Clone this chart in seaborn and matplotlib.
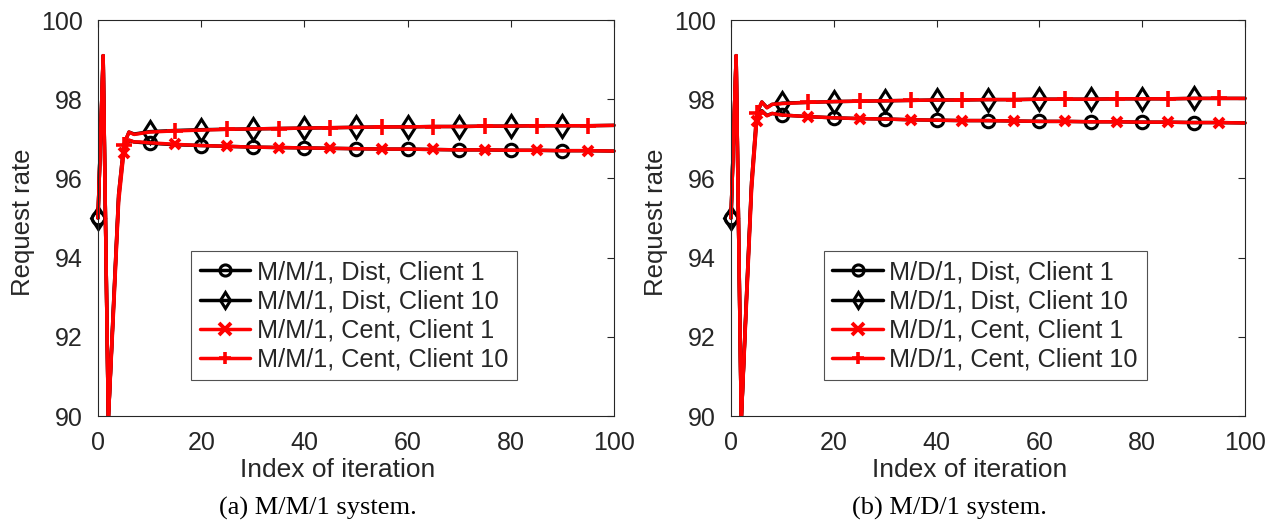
import matplotlib
matplotlib.use("Agg")
import matplotlib.pyplot as plt
from matplotlib.patches import Rectangle
import seaborn as sns
import pandas as pd

# Iteration indices at which the request rates were recorded
iters = [0, 1, 2, 3, 4, 5, 6, 7, 8, 9, 10, 15, 20, 25, 30, 35, 40, 45, 50,
         55, 60, 65, 70, 75, 80, 85, 90, 95, 100]

# M/M/1 system
mm1_dist_c1 = [95.0, 99.1, 89.9, 92.7, 95.5, 96.7, 96.96, 96.92, 96.91, 96.9, 96.89,
               96.85, 96.83, 96.81, 96.79, 96.78, 96.77, 96.76, 96.75, 96.74, 96.74,
               96.73, 96.72, 96.72, 96.71, 96.71, 96.7, 96.7, 96.69]
mm1_dist_c10 = [95.0, 99.1, 89.9, 92.8, 95.6, 96.85, 97.17, 97.12, 97.14, 97.16, 97.18,
                97.21, 97.23, 97.24, 97.25, 97.26, 97.27, 97.28, 97.29, 97.3, 97.3,
                97.31, 97.31, 97.32, 97.32, 97.33, 97.33, 97.33, 97.34]
mm1_cent_c1 = [95.0, 99.1, 89.9, 92.6, 95.4, 96.65, 96.97, 96.92, 96.92, 96.91, 96.9,
               96.86, 96.83, 96.81, 96.79, 96.78, 96.77, 96.76, 96.75, 96.74, 96.74,
               96.73, 96.72, 96.72, 96.71, 96.71, 96.7, 96.7, 96.69]
mm1_cent_c10 = [95.0, 99.1, 89.9, 92.8, 95.6, 96.85, 97.17, 97.11, 97.13, 97.15, 97.17,
                97.2, 97.22, 97.24, 97.25, 97.26, 97.27, 97.28, 97.29, 97.3, 97.3,
                97.31, 97.31, 97.32, 97.32, 97.33, 97.33, 97.33, 97.34]

# M/D/1 system
md1_dist_c1 = [95.0, 99.1, 89.9, 92.9, 95.8, 97.5, 97.71, 97.59, 97.64, 97.62, 97.6,
               97.56, 97.53, 97.51, 97.5, 97.48, 97.47, 97.46, 97.46, 97.45, 97.44,
               97.44, 97.43, 97.43, 97.42, 97.42, 97.41, 97.41, 97.4]
md1_dist_c10 = [95.0, 99.1, 89.9, 93.0, 95.9, 97.62, 97.93, 97.79, 97.87, 97.88, 97.9,
                97.92, 97.94, 97.95, 97.96, 97.97, 97.98, 97.98, 97.99, 97.99, 98.0,
                98.0, 98.0, 98.01, 98.01, 98.01, 98.02, 98.02, 98.02]
md1_cent_c1 = [95.0, 99.1, 89.9, 92.8, 95.7, 97.45, 97.7, 97.58, 97.64, 97.62, 97.6,
               97.56, 97.53, 97.51, 97.5, 97.48, 97.47, 97.46, 97.46, 97.45, 97.44,
               97.44, 97.43, 97.43, 97.42, 97.42, 97.41, 97.41, 97.4]
md1_cent_c10 = [95.0, 99.1, 89.9, 93.0, 95.9, 97.65, 97.93, 97.78, 97.87, 97.88, 97.89,
                97.92, 97.94, 97.95, 97.96, 97.97, 97.98, 97.98, 97.99, 97.99, 98.0,
                98.0, 98.0, 98.01, 98.01, 98.01, 98.02, 98.02, 98.02]

x_ticks = [0, 20, 40, 60, 80, 100]
y_ticks = [90, 92, 94, 96, 98, 100]
x_label = "Index of iteration"
y_label = "Request rate"
captions = ["(a) M/M/1 system.", "(b) M/D/1 system."]
systems = ["M/M/1", "M/D/1"]

sns.set_theme(style="white")
plt.rcParams["font.family"] = ["Liberation Sans", "DejaVu Sans"]

AX_COLOR = "#262626"

# markers on every tenth iteration, offset for the centralized runs
even_marks = [i for i, v in enumerate(iters) if v % 10 == 0 and v < 100]
odd_marks = [i for i, v in enumerate(iters) if v % 10 == 5]

fig = plt.figure(figsize=(12.76, 5.23), dpi=100)
ax_pos = [
    [98 / 1276, 1 - 416 / 523, 516 / 1276, 396 / 523],
    [731 / 1276, 1 - 416 / 523, 514 / 1276, 396 / 523],
]
panels = [
    (mm1_dist_c1, mm1_dist_c10, mm1_cent_c1, mm1_cent_c10),
    (md1_dist_c1, md1_dist_c10, md1_cent_c1, md1_cent_c10),
]
caption_x = [318 / 1276, 949 / 1276]

for k, (pos, series) in enumerate(zip(ax_pos, panels)):
    ax = fig.add_axes(pos)
    d1, d10, c1, c10 = series
    name = systems[k]
    styles = [
        (d1, f"{name}, Dist, Client 1", "black", "o", 9.0, 2.2, even_marks),
        (d10, f"{name}, Dist, Client 10", "black", "d", 11.5, 2.2, even_marks),
        (c1, f"{name}, Cent, Client 1", "red", "x", 7.5, 2.8, odd_marks),
        (c10, f"{name}, Cent, Client 10", "red", "+", 12.0, 2.6, odd_marks),
    ]
    for vals, lab, col, mk, ms, mew, every in styles:
        df = pd.DataFrame({"iter": iters, "rate": vals})
        sns.lineplot(data=df, x="iter", y="rate", ax=ax, color=col, lw=2.5,
                     marker=mk, markersize=ms, markevery=every,
                     markerfacecolor="none", markeredgecolor=col,
                     markeredgewidth=mew, label=lab, legend=False)

    # clip only at the bottom edge so the dip below 90 is cut off while the
    # markers sitting on the left axis stay whole
    clip_rect = Rectangle((-0.1, 0.0), 1.2, 1.1, transform=ax.transAxes,
                          facecolor="none", edgecolor="none")
    for line in ax.get_lines():
        line.set_clip_path(clip_rect)

    ax.set_xlim(0, 100)
    ax.set_ylim(90, 100)
    ax.set_xticks(x_ticks)
    ax.set_yticks(y_ticks)
    ax.tick_params(direction="in", top=True, right=True, length=5, width=0.8,
                   colors=AX_COLOR, labelsize=18)
    ax.tick_params(axis="x", pad=11)
    ax.tick_params(axis="y", pad=11)
    for sp in ax.spines.values():
        sp.set_color(AX_COLOR)
        sp.set_linewidth(0.8)
    ax.set_xlabel(x_label, fontsize=19, color=AX_COLOR)
    ax.set_ylabel(y_label, fontsize=18.5, color=AX_COLOR)
    ax.xaxis.set_label_coords(0.465, -0.105)
    ax.yaxis.set_label_coords(-0.122, 0.49)

    leg = ax.legend(loc="lower left", bbox_to_anchor=(0.18, 0.09),
                    fontsize=18.2, frameon=True, fancybox=False,
                    handlelength=2.0, handletextpad=0.25, labelspacing=0.2,
                    borderpad=0.35, borderaxespad=0, numpoints=1)
    leg.get_frame().set_edgecolor(AX_COLOR)
    leg.get_frame().set_linewidth(0.8)
    for h in leg.legend_handles:
        h.set_markersize(8)

    fig.text(caption_x[k], 1 - 508 / 523, captions[k], ha="center", va="center",
             fontsize=19, family=["Liberation Serif", "DejaVu Serif"], color="black")

fig.savefig("out.png", dpi=100)
